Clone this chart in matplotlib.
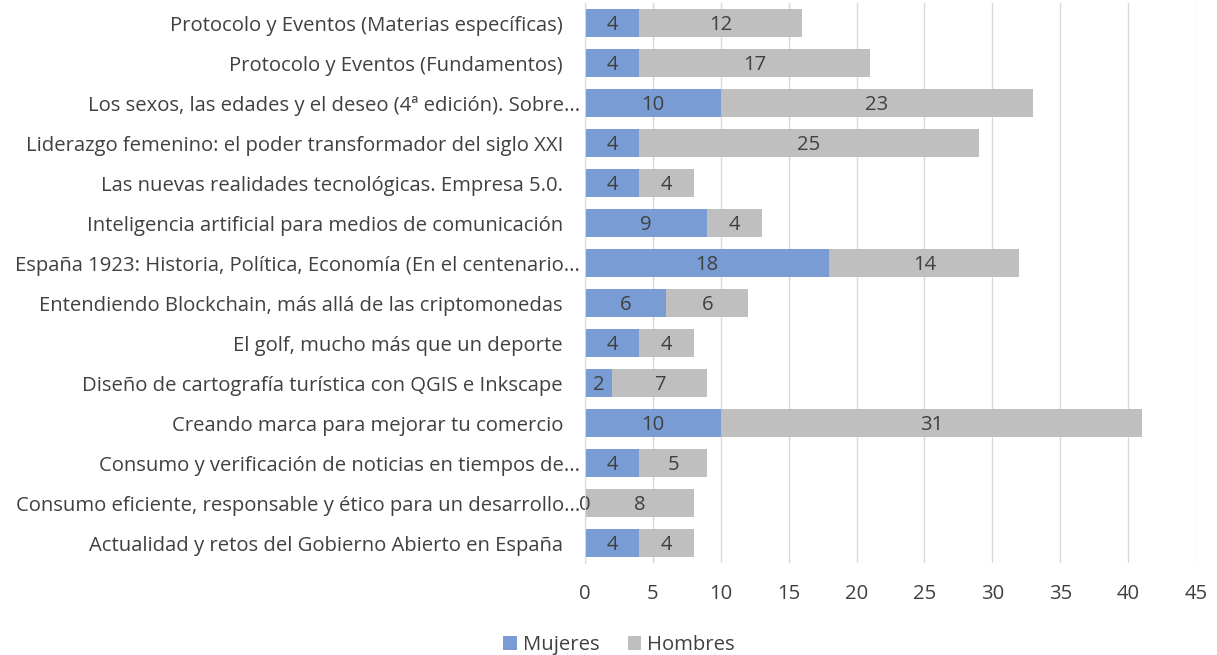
import matplotlib
matplotlib.use("Agg")
import matplotlib.pyplot as plt
import matplotlib.transforms as mtrans
import numpy as np

categories = [
    "Protocolo y Eventos (Materias específicas)",
    "Protocolo y Eventos (Fundamentos)",
    "Los sexos, las edades y el deseo (4ª edición). Sobre...",
    "Liderazgo femenino: el poder transformador del siglo XXI",
    "Las nuevas realidades tecnológicas. Empresa 5.0.",
    "Inteligencia artificial para medios de comunicación",
    "España 1923: Historia, Política, Economía (En el centenario...",
    "Entendiendo Blockchain, más allá de las criptomonedas",
    "El golf, mucho más que un deporte",
    "Diseño de cartografía turística con QGIS e Inkscape",
    "Creando marca para mejorar tu comercio",
    "Consumo y verificación de noticias en tiempos de...",
    "Consumo eficiente, responsable y ético para un desarrollo...",
    "Actualidad y retos del Gobierno Abierto en España",
]
mujeres = [4, 4, 10, 4, 4, 9, 18, 6, 4, 2, 10, 4, 0, 4]
hombres = [12, 17, 23, 25, 4, 4, 14, 6, 4, 7, 31, 5, 8, 4]
xticks = [0, 5, 10, 15, 20, 25, 30, 35, 40, 45]

plt.rcParams['font.family'] = ['Open Sans', 'DejaVu Sans']
text_color = '#404040'
blue = '#7A9CD4'
gray = '#BFBFBF'
fs = 14.6

fig = plt.figure(figsize=(12.17, 6.55), dpi=100)
ax = fig.add_axes([585/1217, 1-563/655, 611/1217, 560/655])

n = len(categories)
y = np.arange(n)[::-1]
h = 0.68
b1 = ax.barh(y, mujeres, height=h, color=blue, label='Mujeres', zorder=3)
b2 = ax.barh(y, hombres, left=mujeres, height=h, color=gray, label='Hombres', zorder=3)

dy = -2.5 / 100  # small downward shift in inches
data_tr = ax.transData + mtrans.ScaledTranslation(0, dy, fig.dpi_scale_trans)
for yi, m, hm in zip(y, mujeres, hombres):
    ax.text(m/2, yi, str(m), ha='center', va='center', fontsize=fs, color=text_color,
            zorder=4, transform=data_tr)
    ax.text(m + hm/2, yi, str(hm), ha='center', va='center', fontsize=fs, color=text_color,
            zorder=4, transform=data_tr)

ax.set_xlim(0, 45)
ax.set_ylim(-0.5, n-0.5)
ax.set_xticks(xticks)
ax.set_xticklabels([str(t) for t in xticks])
ax.set_yticks(y)
ax.set_yticklabels([])
ax.tick_params(axis='both', length=0, labelsize=fs, colors=text_color)
ax.tick_params(axis='x', pad=15)

# category labels: plain ones end ~22px left of axis, truncated ones ~5px left
blend = mtrans.blended_transform_factory(ax.transAxes, ax.transData)
for yi, lab in zip(y, categories):
    dx = -5 if lab.endswith('...') else -22
    tr = blend + mtrans.ScaledTranslation(dx/100, dy, fig.dpi_scale_trans)
    ax.text(0, yi, lab, transform=tr, ha='right', va='center', fontsize=fs,
            color=text_color, zorder=2)

ax.grid(axis='x', color='#D9D9D9', linewidth=1, zorder=0)
for s in ['top', 'right', 'bottom']:
    ax.spines[s].set_visible(False)
ax.spines['left'].set_color('#D9D9D9')
ax.spines['left'].set_zorder(5)

leg = fig.legend(handles=[b1, b2], loc='center', bbox_to_anchor=(619/1217, 1-645/655),
                 ncol=2, frameon=False, fontsize=fs, handlelength=0.65, handleheight=0.65,
                 columnspacing=1.4, handletextpad=0.3)
for t in leg.get_texts():
    t.set_color(text_color)

fig.savefig('out.png', dpi=100)
